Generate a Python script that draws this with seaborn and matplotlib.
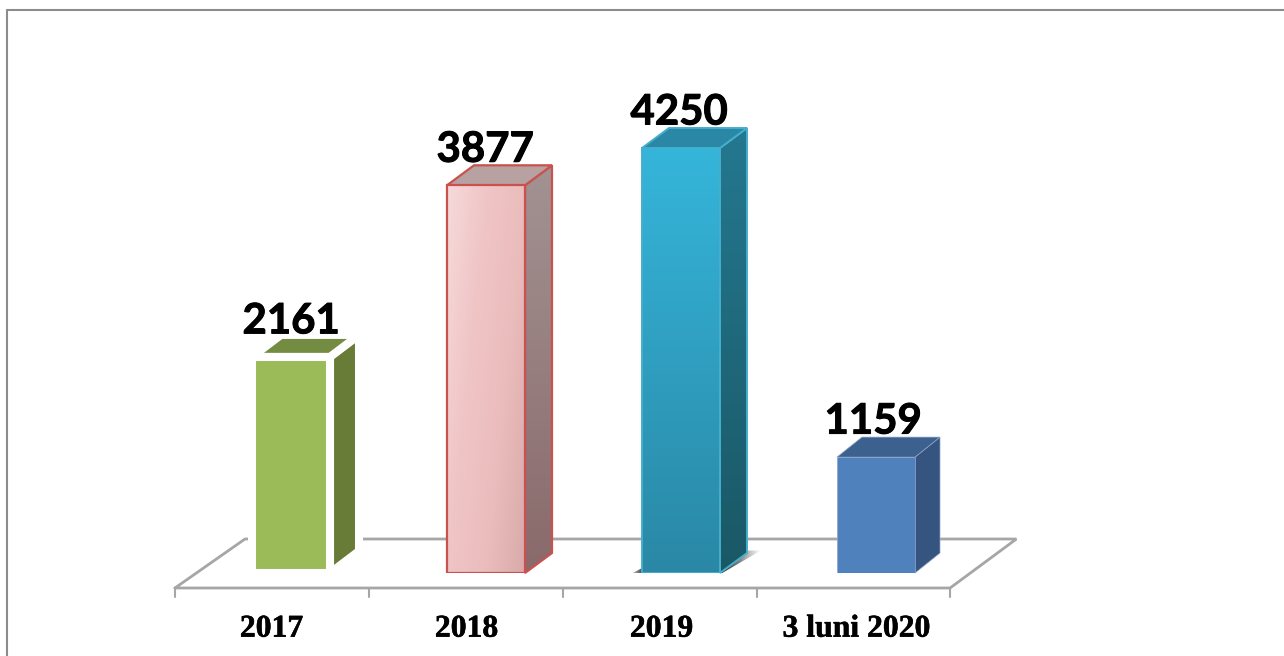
import numpy as np
import pandas as pd
import matplotlib
matplotlib.use("Agg")
import matplotlib.pyplot as plt
import matplotlib.patheffects as pe
from matplotlib.colors import LinearSegmentedColormap
from matplotlib.lines import Line2D
from matplotlib.patches import Polygon
import seaborn as sns

# Data
categories = ["2017", "2018", "2019", "3 luni 2020"]
values = [2161, 3877, 4250, 1159]

front_colors = ["#9bbb59", "#efc4c5", "#32a5c8", "#4f81bd"]
side_colors = [["#687c37", "#687c37"], ["#a39292", "#8a6a6b"], ["#24788f", "#1a5866"], ["#355480", "#355480"]]
top_colors = ["#748c41", "#b8a1a1", "#2a88a6", "#3c618f"]
edge_colors = ["white", "#c9524f", "#45aecd", "#8ea5c8"]
edge_widths = [5.8, 1.6, 1.4, 0.5]

df = pd.DataFrame({"category": categories, "value": values})

sns.set_theme(style="white")
fig = plt.figure(figsize=(12.84, 6.56), dpi=100)
W, H = 1284, 656
ax = fig.add_axes([193.5 / W, 1 - 573 / H, 780 / W, 500 / H])

sns.barplot(data=df, x="category", y="value", hue="category", palette=front_colors,
            width=0.4, saturation=1, legend=False, ax=ax)
ax.set_xlim(-0.5, 3.5)
ax.set_ylim(0, 5000)
ax.set_xlabel("")
ax.set_ylabel("")
ax.set_yticks([])
sns.despine(ax=ax, left=True, bottom=True)

# depth of the fake 3D for each bar, in data units
depth_x = [29 / 195, 27 / 195, 27 / 195, 25 / 195]
depth_y = [220, 200, 200, 200]


def face(verts, color, edge, lw, z):
    p = Polygon(verts, closed=True, facecolor=color, edgecolor=edge, linewidth=lw,
                joinstyle="miter", zorder=z, clip_on=False)
    ax.add_patch(p)
    return p


def gradient(patch, colors, angle, z):
    # paint a gradient over a face, clipped to the face
    x0, y0, x1, y1 = patch.get_extents().transformed(ax.transData.inverted()).extents
    u, v = np.meshgrid(np.linspace(0, 1, 100), np.linspace(0, 1, 100))
    grid = u * np.cos(angle) + v * np.sin(angle)
    grid = (grid - grid.min()) / (grid.max() - grid.min())
    cmap = LinearSegmentedColormap.from_list("g", colors)
    im = ax.imshow(grid, cmap=cmap, extent=(x0, x1, y0, y1), origin="upper",
                   aspect="auto", zorder=z, clip_on=True)
    im.set_clip_path(patch)


# floor
floor_y = -150
back_y = 340
ax.plot([-0.595, -0.236, 3.72, 3.38, -0.595], [floor_y, back_y, back_y, floor_y, floor_y],
        color="#a6a6a6", lw=2, clip_on=False, zorder=1, solid_joinstyle="miter")
tick_x = [-0.595, 0.4, 1.395, 2.39, 3.38]
for t in tick_x:
    ax.plot([t, t], [floor_y, floor_y - 90], color="#a6a6a6", lw=1.5, clip_on=False, zorder=1)

bars = list(ax.patches[:4])

# soft shadow under the 2019 bar
sx0 = bars[2].get_x()
sx1 = sx0 + bars[2].get_width()
left_shadow = face([(sx0 - 0.075, -30), (sx0 + 0.01, -30), (sx0 + 0.01, 60)], "none", "none", 0, 1.4)
gradient(left_shadow, ["#33333300", "#333333ff"], 0, 1.5)
right_shadow = face([(sx1 - 0.01, -25), (sx1 + 0.21, 225), (sx1 - 0.01, 225)], "none", "none", 0, 1.4)
gradient(right_shadow, ["#222222ff", "#22222290", "#33333300"], 0, 1.5)

# side and top faces, built from the bars seaborn drew
for i, bar in enumerate(bars):
    x0 = bar.get_x()
    x1 = x0 + bar.get_width()
    h = bar.get_height()
    dx = depth_x[i]
    dy = depth_y[i]
    bar.set_edgecolor(edge_colors[i])
    bar.set_linewidth(edge_widths[i])
    bar.set_zorder(4)

    side = face([(x1, 0), (x1 + dx, dy), (x1 + dx, h + dy), (x1, h)], side_colors[i][1],
                edge_colors[i], edge_widths[i], 3)
    top = face([(x0, h), (x1, h), (x1 + dx, h + dy), (x0 + dx, h + dy)], top_colors[i],
               edge_colors[i], edge_widths[i], 3)
    if side_colors[i][0] != side_colors[i][1]:
        fill = face(side.get_xy()[:-1], "none", "none", 0, 2.9)
        gradient(fill, side_colors[i], np.pi / 2, 2.95)
        side.set_facecolor("none")

    ax.text(i - 0.005 * i, h + 235, str(values[i]), ha="center", va="baseline", fontsize=30.2,
            fontweight="bold", family="Lato", color="black", zorder=6,
            path_effects=[pe.withStroke(linewidth=0.7, foreground="black")])

# gradients on the 2018 and 2019 fronts
b = bars[1]
clip = Polygon(b.get_corners(), closed=True, facecolor="none", edgecolor="none", zorder=4)
ax.add_patch(clip)
gradient(clip, ["#d9aaaa", "#ebbcbc", "#f0c5c6", "#f6dadb"], np.pi * 1.15, 4.1)
b.set_facecolor("none")
b.set_zorder(5)

b = bars[2]
clip = Polygon(b.get_corners(), closed=True, facecolor="none", edgecolor="none", zorder=4)
ax.add_patch(clip)
gradient(clip, ["#35b5da", "#2a88a6"], np.pi / 2, 4.1)
b.set_facecolor("none")
b.set_zorder(5)

ax.set_xlim(-0.5, 3.5)
ax.set_ylim(0, 5000)

# category labels sit under the floor, shifted left like the front edge
ax.set_xticks(np.arange(4) - 0.1)
ax.set_xticklabels(categories, family="Liberation Serif", fontweight="bold", fontsize=22.8, color="black",
                   path_effects=[pe.withStroke(linewidth=0.4, foreground="black")])
ax.tick_params(axis="x", length=0, pad=30)

# page border
fig.add_artist(Line2D([7 / W, 7 / W], [0, 1 - 10 / H], color="#8c8c8c", lw=1.5))
fig.add_artist(Line2D([7 / W, 1], [1 - 10 / H, 1 - 10 / H], color="#8c8c8c", lw=1.5))

plt.savefig("out.png", dpi=100)
